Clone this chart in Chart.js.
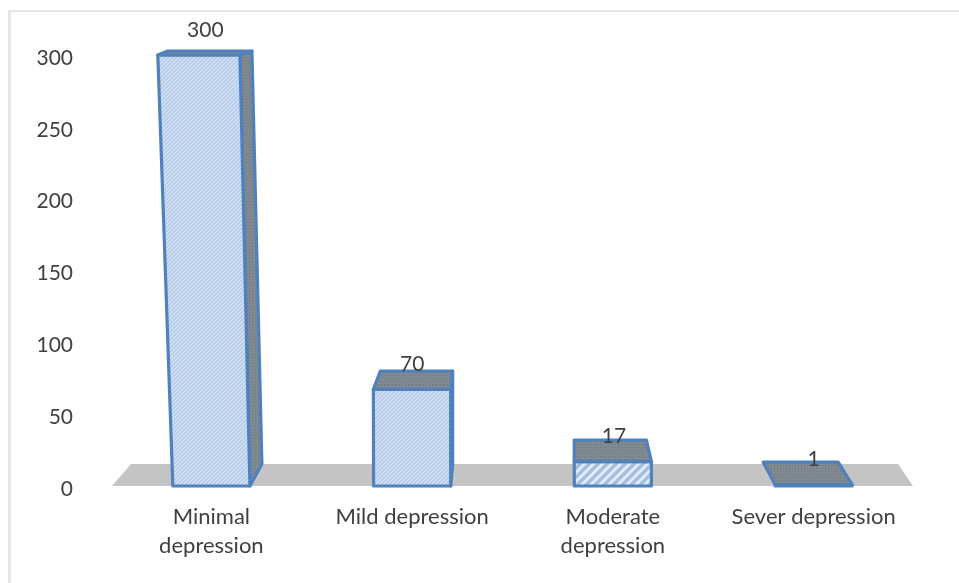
<!DOCTYPE html>
<html>
<head>
<meta charset="utf-8">
<style>
  html, body { margin: 0; padding: 0; background: #fff; }
  #wrap { width: 959px; height: 583px; position: relative; }
</style>
<script src="https://cdn.jsdelivr.net/npm/chart.js@4/dist/chart.umd.min.js"></script>
</head>
<body>
<div id="wrap"><canvas id="chart"></canvas></div>
<script>
const categories = [['Minimal', 'depression'], 'Mild depression', ['Moderate', 'depression'], 'Sever depression'];
const patients = [300, 70, 17, 1];
const yTicks = [0, 50, 100, 150, 200, 250, 300];

// look of the fake 3d boxes, px relative to each bar
const leanLeft = [-15, -1, -2, -2];
const leanRight = [-10, 0, 0, 0];
const depthLeft = [10, 7, 0, -12];
const depthRight = [12, 2, -5, -14];
const topSink = [0, 4, 0, 0];
const labelShift = [-6, 0, 1, 0];

const AXIS_DROP = 3; // tick labels sit a little lower than the boxes
const TEXT_COLOR = '#404040';
const LINE_COLOR = '#4f81bd';
const FONT = { family: 'Lato', size: 21 };

function makePattern(size, paint) {
  const c = document.createElement('canvas');
  c.width = c.height = size;
  paint(c.getContext('2d'), size);
  return document.createElement('canvas').getContext('2d').createPattern(c, 'repeat');
}

function hatch(bg, fg, size, lineWidth) {
  return makePattern(size, (p, s) => {
    p.fillStyle = bg;
    p.fillRect(0, 0, s, s);
    p.strokeStyle = fg;
    p.lineWidth = lineWidth;
    p.beginPath();
    p.moveTo(-1, s + 1); p.lineTo(s + 1, -1);
    p.moveTo(-1, 1); p.lineTo(1, -1);
    p.moveTo(s - 1, s + 1); p.lineTo(s + 1, s - 1);
    p.stroke();
  });
}

const fineHatch = hatch('#b3cae8', '#dce7f5', 4, 1.2);
const wideHatch = hatch('#e3ecf7', '#a3bfe3', 9, 3.5);
const stipple = makePattern(3, (p, s) => {
  p.fillStyle = '#808890';
  p.fillRect(0, 0, s, s);
  p.fillStyle = '#6f7883';
  p.fillRect(0, 0, 1, 1);
});

function quad(ctx, pts, fill) {
  ctx.beginPath();
  pts.forEach((pt, i) => i ? ctx.lineTo(pt[0], pt[1]) : ctx.moveTo(pt[0], pt[1]));
  ctx.closePath();
  ctx.fillStyle = fill;
  ctx.fill();
  ctx.stroke();
}

// how far back the top face reaches, shrinks towards the top of the chart
const depthAt = y => 4 + (y - 55) * 0.043;

const box3d = {
  id: 'box3d',
  beforeDraw(chart) {
    const { ctx } = chart;
    ctx.save();
    ctx.fillStyle = '#e6e6e6';
    ctx.fillRect(8, 10, chart.width - 8, 2);
    ctx.fillRect(8, 10, 3, chart.height - 10);
    ctx.restore();
  },
  beforeDatasetsDraw(chart) {
    const { ctx, chartArea: a, scales } = chart;
    const base = scales.y.getPixelForValue(0) - AXIS_DROP;
    ctx.save();
    ctx.fillStyle = '#c4c4c4';
    ctx.beginPath();
    ctx.moveTo(a.left + 1, base);
    ctx.lineTo(a.left + 20, base - 22);
    ctx.lineTo(a.right - 16, base - 22);
    ctx.lineTo(a.right - 1, base);
    ctx.closePath();
    ctx.fill();
    ctx.restore();
  },
  afterDatasetsDraw(chart) {
    const { ctx, scales } = chart;
    const bars = chart.getDatasetMeta(0).data;
    const span = scales.y.getPixelForValue(0) - scales.y.getPixelForValue(300);
    ctx.save();
    ctx.lineWidth = 3.2;
    ctx.strokeStyle = LINE_COLOR;
    ctx.lineJoin = 'round';
    bars.forEach((bar, i) => {
      const l = bar.x - bar.width / 2;
      const r = bar.x + bar.width / 2;
      const base = bar.base - AXIS_DROP;
      const y = bar.y - AXIS_DROP + topSink[i];
      const h = (base - y) / span;
      const tl = l + leanLeft[i] * h;
      const tr = r + leanRight[i] * h;
      const d = depthAt(y);
      // side
      if (depthRight[i] > 0) {
        quad(ctx, [[r, base], [r + depthRight[i], base - 22], [tr + depthRight[i], y - d], [tr, y]], stipple);
      }
      // front
      quad(ctx, [[l, base], [r, base], [tr, y], [tl, y]], i === 2 ? wideHatch : fineHatch);
      // top
      quad(ctx, [[tl, y], [tr, y], [tr + depthRight[i], y - d], [tl + depthLeft[i], y - d]], stipple);
    });
    ctx.fillStyle = TEXT_COLOR;
    ctx.font = `${FONT.size}px ${FONT.family}`;
    ctx.textAlign = 'center';
    ctx.textBaseline = 'middle';
    bars.forEach((bar, i) => {
      ctx.fillText(String(patients[i]), bar.x + labelShift[i], bar.y - AXIS_DROP + topSink[i] - 25);
    });
    ctx.restore();
  }
};

new Chart(document.getElementById('chart'), {
  type: 'bar',
  data: {
    labels: categories,
    datasets: [{
      data: patients,
      backgroundColor: 'rgba(0,0,0,0)',
      borderWidth: 0,
      barPercentage: 1,
      categoryPercentage: 0.384
    }]
  },
  options: {
    responsive: true,
    maintainAspectRatio: false,
    animation: false,
    layout: { padding: { top: 58, right: 45, bottom: 0, left: 0 } },
    plugins: { legend: { display: false }, tooltip: { enabled: false } },
    scales: {
      x: {
        grid: { display: false },
        border: { display: false },
        ticks: { color: TEXT_COLOR, font: { ...FONT, size: 22, lineHeight: 1.32 }, padding: 5, maxRotation: 0, autoSkip: false },
        afterFit: scale => { scale.height = 94; }
      },
      y: {
        min: 0,
        max: 300,
        grid: { display: false },
        border: { display: false },
        afterFit: scale => { scale.width = 111; },
        afterBuildTicks: scale => { scale.ticks = yTicks.map(value => ({ value })); },
        ticks: { color: TEXT_COLOR, font: FONT, padding: 30 }
      }
    }
  },
  plugins: [box3d]
});
</script>
</body>
</html>
